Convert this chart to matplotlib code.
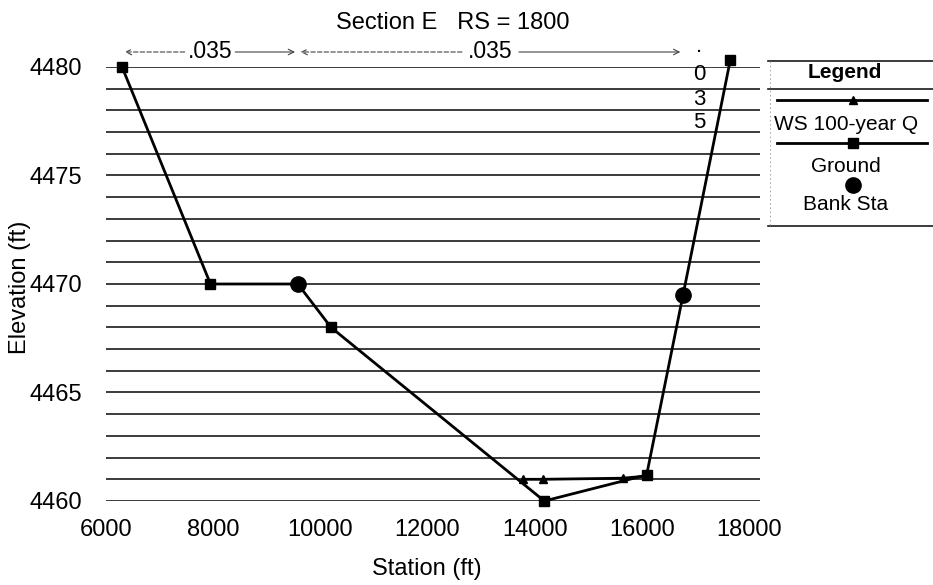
import matplotlib
matplotlib.use("Agg")
import matplotlib.pyplot as plt
from matplotlib.lines import Line2D
import matplotlib.transforms as mtransforms

plt.rcParams['font.family'] = ['Liberation Sans', 'DejaVu Sans']

# ---- data ----
ground_sta = [6300, 7950, 9580, 10200, 14180, 16090, 16770, 17650]
ground_elev = [4480.0, 4470.0, 4470.0, 4468.0, 4460.0, 4461.2, 4469.5, 4480.3]
bank_sta = [9580, 16770]
bank_elev = [4470.0, 4469.5]
ws_sta = [13790, 14150, 15640, 16090]
ws_elev = [4461.0, 4461.0, 4461.05, 4461.15]
n_breaks = [6300, 9580, 16770, 17650]
n_values = ['.035', '.035', '.035']
x_ticks = [6000, 8000, 10000, 12000, 14000, 16000, 18000]
y_ticks = [4460, 4465, 4470, 4475, 4480]
grid_levels = list(range(4460, 4481))

W, H = 933, 585
fig = plt.figure(figsize=(W / 100, H / 100), dpi=100)
L, R, T, B = 106, 760, 67, 501
ax = fig.add_axes([L / W, 1 - B / H, (R - L) / W, (B - T) / H])
ax.set_xlim(6000, 18206)
ax.set_ylim(4460, 4480)
for s in ax.spines.values():
    s.set_visible(False)

for g in grid_levels:
    ax.axhline(g, color='#1a1a1a', lw=1.2, zorder=1)

ax.set_xticks(x_ticks)
ax.set_yticks(y_ticks)
ax.tick_params(length=0, labelsize=17)
ax.tick_params(axis='x', pad=13)
ax.tick_params(axis='y', pad=17)

lw = 2.0
square_idx = [i for i, s in enumerate(ground_sta) if s not in bank_sta]
ax.plot(ground_sta, ground_elev, color='black', lw=lw, marker='s', ms=7,
        markevery=square_idx, clip_on=False, zorder=3)
ax.plot(ws_sta[:-1], ws_elev[:-1], color='black', lw=lw, marker='^', ms=6,
        clip_on=False, zorder=4)
ax.plot(ws_sta[-2:], ws_elev[-2:], color='black', lw=lw, clip_on=False, zorder=4)
ax.plot(bank_sta, bank_elev, linestyle='none', marker='o', ms=11,
        color='black', clip_on=False, zorder=5)

# Manning's n annotations
trans = mtransforms.blended_transform_factory(ax.transData, fig.transFigure)
y_arr = 1 - 52 / H
for i in range(2):
    x0, x1 = n_breaks[i], n_breaks[i + 1]
    xm = (x0 + x1) / 2
    ax.text(xm, y_arr, n_values[i], transform=trans, ha='center', va='center',
            fontsize=16.5)
    half = 420 if i == 0 else 480
    ax.annotate('', xy=(x0, y_arr), xytext=(xm - half, y_arr),
                xycoords=trans, textcoords=trans,
                arrowprops=dict(arrowstyle='->', lw=0.8, color='#444444',
                                linestyle=(0, (4, 2))))
    ax.annotate('', xy=(x1, y_arr), xytext=(xm + half, y_arr),
                xycoords=trans, textcoords=trans,
                arrowprops=dict(arrowstyle='->', lw=0.8, color='#444444'))
# vertical third n value
xv = 17070
chars = list(n_values[2])
ys = [46, 75, 99, 122]
for c, yy in zip(chars, ys):
    ax.text(xv, 1 - yy / H, c, transform=trans, ha='center', va='center',
            fontsize=16)

# title and labels
fig.text(453 / W, 1 - 23 / H, 'Section E   RS = 1800', ha='center', va='center',
         fontsize=17)
fig.text(427 / W, 1 - 569 / H, 'Station (ft)', ha='center', va='center',
         fontsize=17)
fig.text(20 / W, 1 - 287 / H, 'Elevation (ft)', ha='center', va='center',
         fontsize=17, rotation=90)

# legend box
def fx(p):
    return p / W

def fy(p):
    return 1 - p / H

for yy in (61, 89, 226):
    fig.add_artist(Line2D([fx(768), fx(933)], [fy(yy), fy(yy)], color='#1a1a1a',
                          lw=1.2, transform=fig.transFigure))
fig.add_artist(Line2D([fx(770), fx(770)], [fy(61), fy(226)], color='#999999',
                      lw=0.6, ls=(0, (2, 3)), transform=fig.transFigure))
fig.text(fx(845), fy(72), 'Legend', ha='center', va='center', fontsize=15,
         fontweight='bold')
fig.add_artist(Line2D([fx(777), fx(927)], [fy(100), fy(100)], color='black',
                      lw=lw, transform=fig.transFigure))
fig.add_artist(Line2D([fx(853)], [fy(100)], color='black', marker='^', ms=6,
                      transform=fig.transFigure))
fig.text(fx(846), fy(124), 'WS 100-year Q', ha='center', va='center', fontsize=15)
fig.add_artist(Line2D([fx(777), fx(927)], [fy(143), fy(143)], color='black',
                      lw=lw, transform=fig.transFigure))
fig.add_artist(Line2D([fx(853)], [fy(143)], color='black', marker='s', ms=7,
                      transform=fig.transFigure))
fig.text(fx(846), fy(166), 'Ground', ha='center', va='center', fontsize=15)
fig.add_artist(Line2D([fx(853)], [fy(185)], color='black', marker='o', ms=11,
                      transform=fig.transFigure))
fig.text(fx(846), fy(205), 'Bank Sta', ha='center', va='center', fontsize=15)

fig.savefig('out.png', dpi=100)
